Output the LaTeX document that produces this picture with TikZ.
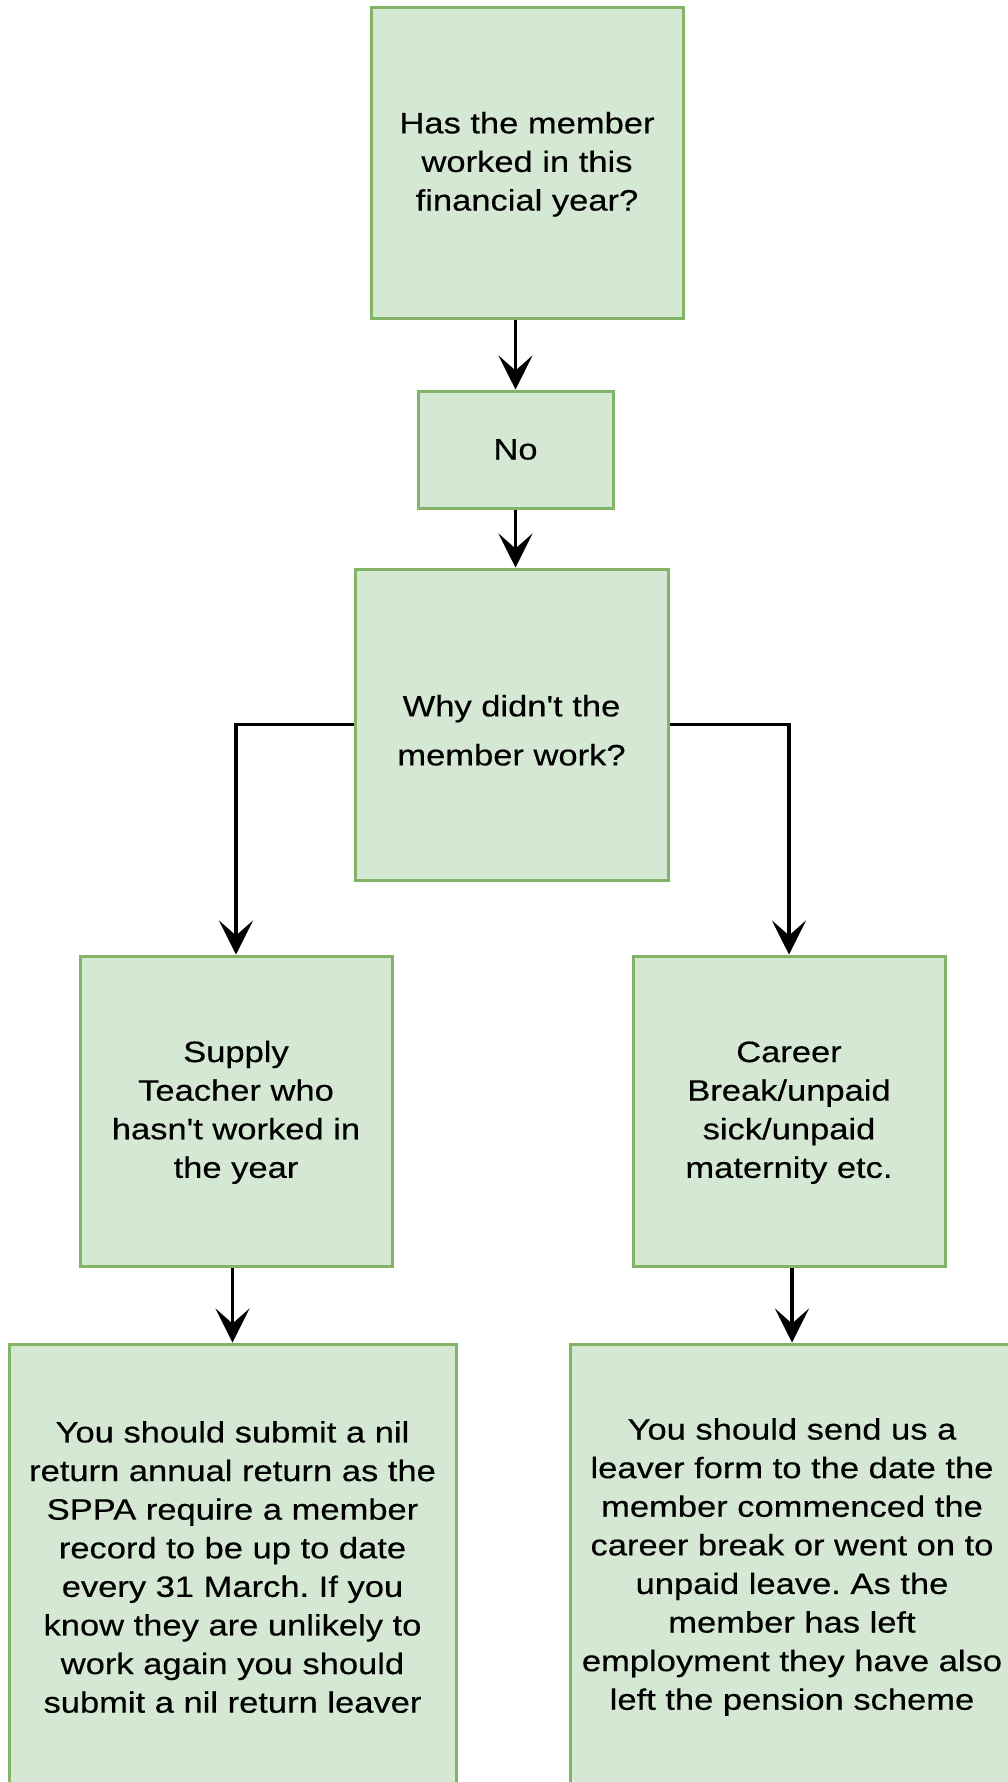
\documentclass[tikz,border=0pt]{standalone}
\usepackage{fontspec}
\setmainfont{Liberation Sans}[FakeStretch=1.17, FakeBold=0.4, Ligatures=TeXOff]
\usetikzlibrary{arrows.meta}
\definecolor{boxfill}{HTML}{D5E8D4}
\definecolor{boxline}{HTML}{82B366}
\frenchspacing
\begin{document}
\begin{tikzpicture}[x=1pt,y=-1pt,
  box/.style={draw=boxline, fill=boxfill, line width=3pt, inner sep=0pt, align=center,
    font=\fontsize{29.5pt}{38.6pt}\selectfont},
  conn/.style={line width=3.2pt, -{Stealth[length=34pt,width=34pt,inset=15pt]}}]
\useasboundingbox[fill=white] (0,0) rectangle (1008,1782);
\node[box, minimum width=312pt, minimum height=310pt] (q1) at (527,163) {\rule{0pt}{24pt}Has the member\\worked in this\\financial year?};
\node[box, minimum width=195pt, minimum height=117pt] (no) at (515.5,449.5) {No};
\node[box, minimum width=313pt, minimum height=311pt, font=\fontsize{29.5pt}{49pt}\selectfont] (why) at (511.5,724.5) {\rule{0pt}{33pt}Why didn't the\\member work?};
\node[box, minimum width=312pt, minimum height=310pt] (supply) at (236,1111) {\rule{0pt}{24pt}Supply\\Teacher who\\hasn't worked in\\the year};
\node[box, minimum width=312pt, minimum height=310pt] (career) at (789,1111) {\rule{0pt}{24pt}Career\\Break/unpaid\\sick/unpaid\\maternity etc.};
\node[box, minimum width=447pt, minimum height=446pt] (leftbot) at (232.5,1567) {You should submit a nil\\return annual return as the\\SPPA require a member\\record to be up to date\\every 31 March. If you\\know they are unlikely to\\work again you should\\submit a nil return leaver};
\node[box, minimum width=444pt, minimum height=446pt] (rightbot) at (792,1567) {You should send us a\\leaver form to the date the\\member commenced the\\career break or went on to\\unpaid leave. As the\\member has left\\employment they have also\\left the pension scheme};
\draw[conn] (q1.south -| no.north) -- (no.north);
\draw[conn] (no.south) -- (no.south |- why.north);
\draw[conn] (why.west) -| (supply.north);
\draw[conn] (why.east) -| (career.north);
\draw[conn] (supply.south -| leftbot.north) -- (leftbot.north);
\draw[conn] (career.south -| rightbot.north) -- (rightbot.north);
\end{tikzpicture}
\end{document}
